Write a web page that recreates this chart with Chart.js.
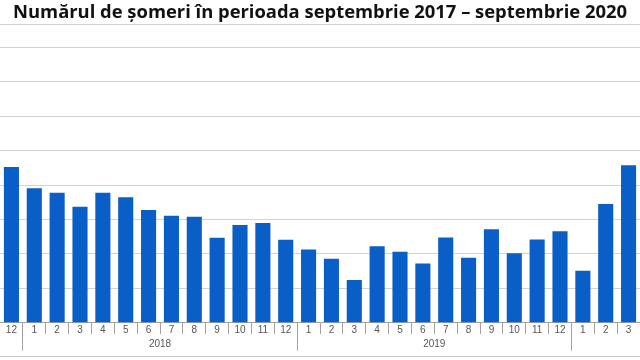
<!DOCTYPE html>
<html><head><meta charset="utf-8">
<script src="https://cdn.jsdelivr.net/npm/chart.js@4"></script>
<style>
html,body{margin:0;padding:0;background:#fff;overflow:hidden;}
#wrap{position:relative;width:640px;height:356px;border-bottom:1px solid #c8c8c8;}
</style></head><body>
<div id="wrap"><canvas id="c"></canvas></div>
<script>
const titleText = 'Numărul de șomeri în perioada septembrie 2017 – septembrie 2020';
const months = ['12','1','2','3','4','5','6','7','8','9','10','11','12','1','2','3','4','5','6','7','8','9','10','11','12','1','2','3'];
const yearLabels = ['2018','2019'];
const values = [4.53,3.91,3.78,3.37,3.78,3.65,3.28,3.11,3.08,2.47,2.84,2.90,2.41,2.13,1.86,1.24,2.22,2.06,1.72,2.48,1.89,2.72,2.02,2.42,2.66,1.51,3.45,4.58];

// year boundaries: before each month "1"
const boundaries = [];
months.forEach((m,i)=>{ if(m==='1') boundaries.push(i-0.5); });
const centers = [];
for(let i=0;i<boundaries.length-1;i++) centers.push((boundaries[i]+boundaries[i+1])/2);
const yearFor = v => { const k = centers.findIndex(c=>Math.abs(c-v)<1e-6); return k>=0 ? yearLabels[k] : ''; };

const tickFont = {family:'Liberation Sans, Arial, sans-serif', size:10};
const axisGray = '#a0a0a0';
new Chart(document.getElementById('c'), {
  type:'bar',
  data:{ labels: months, datasets:[{ data: values, backgroundColor:'#0a5ec8', borderWidth:0, categoryPercentage:1, barPercentage:0.66 }]},
  options:{
    responsive:true, maintainAspectRatio:false, animation:false,
    layout:{ padding:{left:0,right:0,top:0,bottom:6} },
    plugins:{
      legend:{display:false}, tooltip:{enabled:false},
      title:{ display:true, text:titleText, color:'#111', font:{family:'Open Sans, sans-serif', size:18.4, weight:'bold'}, padding:{top:2,bottom:0.4} }
    },
    scales:{
      y:{ min:0, max:8.67, ticks:{display:false, stepSize:1}, border:{display:false},
          grid:{ drawTicks:false, color: ctx => ctx.tick && ctx.tick.value===0 ? 'rgba(0,0,0,0)' : '#d2d2d2', lineWidth:1 } },
      x:{ offset:true, weight:0,
          grid:{ offset:true, drawOnChartArea:false, tickLength:28, color:axisGray, tickColor:axisGray,
                 tickBorderDash: ctx => (ctx.index !== undefined && months[ctx.index]==='1') ? [] : [11, 40] },
          border:{ color:axisGray, width:1 },
          ticks:{ mirror:true, padding:-14, autoSkip:false, maxRotation:0, minRotation:0, font:tickFont, color:'#555' } },
      x2:{ type:'linear', position:'bottom', weight:1, offset:false, bounds:'data', min:-0.5, max:months.length-0.5,
           afterBuildTicks: s => { s.ticks = centers.map(v=>({value:v})); },
           ticks:{ autoSkip:false, maxRotation:0, minRotation:0, padding:0, font:tickFont, color:'#555', callback: v => yearFor(v) },
           grid:{ offset:false, drawOnChartArea:false, tickLength:15.3, color:'rgba(0,0,0,0)' },
           border:{display:false} }
    }
  }
});
</script>
</body></html>
